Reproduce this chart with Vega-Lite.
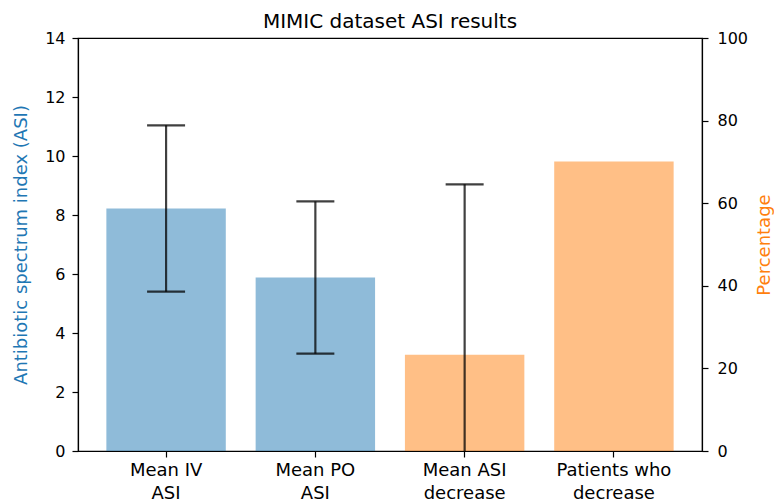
{
  "$schema": "https://vega.github.io/schema/vega-lite/v6.json",
  "width": 624,
  "height": 413,
  "autosize": "none",
  "padding": {"left": 78, "top": 38, "right": 72, "bottom": 53},
  "background": "white",
  "title": {"text": "MIMIC dataset ASI results", "fontSize": 20, "font": "DejaVu Sans", "fontWeight": "normal", "color": "#000", "offset": -2},
  "config": {
    "view": {"stroke": "#000", "strokeWidth": 1.2},
    "font": "DejaVu Sans",
    "axis": {
      "labelFont": "DejaVu Sans", "labelFontSize": 16, "labelColor": "#000",
      "domainColor": "#000", "domainWidth": 1.2, "tickColor": "#000", "tickSize": 6, "tickWidth": 1.2,
      "grid": false, "titleFont": "DejaVu Sans", "titleFontWeight": "normal", "titleFontSize": 18
    }
  },
  "data": {
    "values": [
      {"cat": "Mean IV\nASI", "asi": 8.22, "lo": 5.40, "hi": 11.04, "series": "ASI"},
      {"cat": "Mean PO\nASI", "asi": 5.88, "lo": 3.30, "hi": 8.46, "series": "ASI"},
      {"cat": "Mean ASI\ndecrease", "asi": 3.26, "lo": -2.52, "hi": 9.04, "series": "pct"},
      {"cat": "Patients who\ndecrease", "pct": 70.1, "series": "pct"}
    ]
  },
  "encoding": {
    "x": {
      "field": "cat", "type": "nominal", "sort": null,
      "scale": {"domain": ["Mean IV\nASI", "Mean PO\nASI", "Mean ASI\ndecrease", "Patients who\ndecrease"], "paddingInner": 0.2, "paddingOuter": 0.19},
      "axis": {"labelAngle": 0, "title": null, "labelExpr": "split(datum.value, '\\n')", "labelFontSize": 18, "labelLineHeight": 23, "labelPadding": 4}
    }
  },
  "layer": [
    {
      "layer": [
        {
          "transform": [{"filter": "isValid(datum.asi)"}],
          "mark": {"type": "bar", "opacity": 0.5},
          "encoding": {
            "y": {"field": "asi", "type": "quantitative", "scale": {"domain": [0, 14], "nice": false},
              "axis": {"title": "Antibiotic spectrum index (ASI)", "titleColor": "#1f77b4", "values": [0, 2, 4, 6, 8, 10, 12, 14], "labelPadding": 7, "titlePadding": 14}},
            "color": {"field": "series", "type": "nominal", "scale": {"domain": ["ASI", "pct"], "range": ["#1f77b4", "#ff7f0e"]}, "legend": null}
          }
        },
        {
          "transform": [{"filter": "isValid(datum.lo)"}],
          "mark": {"type": "rule", "color": "#000", "opacity": 0.75, "strokeWidth": 2.2, "clip": true},
          "encoding": {
            "y": {"field": "lo", "type": "quantitative", "title": "Antibiotic spectrum index (ASI)"},
            "y2": {"field": "hi"}
          }
        },
        {
          "transform": [{"filter": "isValid(datum.hi)"}],
          "mark": {"type": "tick", "orient": "horizontal", "color": "#000", "opacity": 0.75, "size": 38, "thickness": 2.2, "clip": true},
          "encoding": {
            "y": {"field": "hi", "type": "quantitative", "title": "Antibiotic spectrum index (ASI)"}
          }
        },
        {
          "transform": [{"filter": "isValid(datum.lo)"}],
          "mark": {"type": "tick", "orient": "horizontal", "color": "#000", "opacity": 0.75, "size": 38, "thickness": 2.2, "clip": true},
          "encoding": {
            "y": {"field": "lo", "type": "quantitative", "title": "Antibiotic spectrum index (ASI)"}
          }
        }
      ]
    },
    {
      "transform": [{"filter": "isValid(datum.pct)"}],
      "mark": {"type": "bar", "opacity": 0.5, "color": "#ff7f0e"},
      "encoding": {
        "y": {"field": "pct", "type": "quantitative", "scale": {"domain": [0, 100], "nice": false},
          "axis": {"orient": "right", "title": "Percentage", "titleColor": "#ff7f0e", "titleAngle": 270, "values": [0, 20, 40, 60, 80, 100], "labelPadding": 9, "titlePadding": 26}}
      }
    }
  ],
  "resolve": {"scale": {"y": "independent", "color": "independent"}}
}
